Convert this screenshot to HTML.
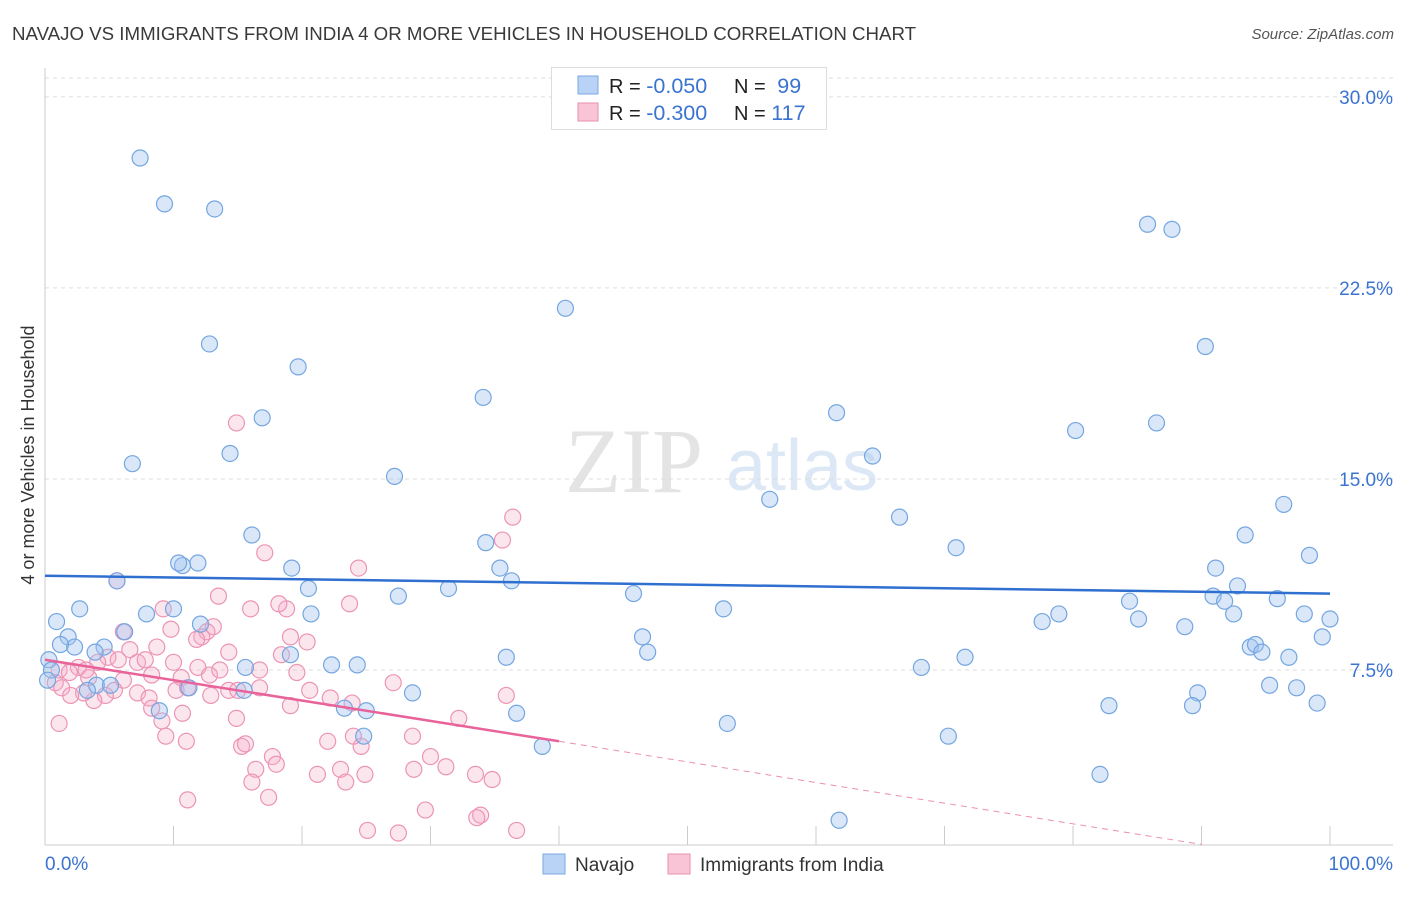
<!DOCTYPE html>
<html><head><meta charset="utf-8"><style>
body{margin:0;background:#fff;font-family:"Liberation Sans",sans-serif}
svg text{font-family:"Liberation Sans",sans-serif}
</style></head><body>
<svg id="chart" width="1406" height="892" viewBox="0 0 1406 892" xmlns="http://www.w3.org/2000/svg">
<text x="12" y="40" font-size="18.7" fill="#3a3a3a">NAVAJO VS IMMIGRANTS FROM INDIA 4 OR MORE VEHICLES IN HOUSEHOLD CORRELATION CHART</text>
<text x="1394" y="39" font-size="15" fill="#555" font-style="italic" text-anchor="end">Source: ZipAtlas.com</text>
<g>
<text x="634" y="492" font-size="92" fill="#e4e4e4" text-anchor="middle" style="font-family:'Liberation Serif',serif">ZIP</text>
<text x="802" y="490" font-size="72" fill="#dce8f6" text-anchor="middle">atlas</text>
</g>
<g id="grid"></g>
<g id="axes"></g>
<g id="pts"></g>
<g id="lines"></g>
<text transform="translate(34,455) rotate(-90)" font-size="18" fill="#333" text-anchor="middle">4 or more Vehicles in Household</text>
<g>
<rect x="551.5" y="67.5" width="275" height="62" fill="#fff" stroke="#ddd"/>
<rect x="578" y="76" width="20" height="18" fill="#b8d3f5" stroke="#7aaae0"/>
<rect x="578" y="103" width="20" height="18" fill="#f9c4d6" stroke="#e98fb0"/>
<text x="609" y="93" font-size="20" fill="#222">R = <tspan fill="#3b73d1" font-size="21.5">-0.050</tspan></text>
<text x="734" y="93" font-size="20" fill="#222">N = <tspan fill="#3b73d1" dx="6" font-size="21.5">99</tspan></text>
<text x="609" y="120" font-size="20" fill="#222">R = <tspan fill="#3b73d1" font-size="21.5">-0.300</tspan></text>
<text x="734" y="120" font-size="20" fill="#222">N = <tspan fill="#3b73d1" font-size="21.5">117</tspan></text>
</g>
<g>
<rect x="543" y="854" width="22" height="20" fill="#b8d3f5" stroke="#7aaae0"/>
<text x="575" y="871" font-size="19" fill="#333">Navajo</text>
<rect x="668" y="854" width="22" height="20" fill="#f9c4d6" stroke="#e98fb0"/>
<text x="700" y="871" font-size="19" fill="#333">Immigrants from India</text>
</g>
</svg>
<script>
const yTicks=[7.5,15,22.5,30];
const yTickLabels=["7.5%","15.0%","22.5%","30.0%"];
const xTicks=[0,10,20,30,40,50,60,70,80,90,100];
const navajoX=[7.4,9.3,13.2,12.8,19.7,16.9,6.8,14.4,27.2,34.1,40.5,85.8,87.7,90.3,80.2,86.5,61.6,64.4,56.4,66.5,70.9,96.4,93.4,98.4,91.1,92.8,90.9,91.8,95.9,92.5,98.0,100.0,99.4,88.7,84.4,85.1,77.6,78.9,93.8,94.2,94.7,96.8,95.3,97.4,99.0,89.7,89.3,82.8,82.1,71.6,68.2,70.3,61.8,52.8,53.1,46.5,46.9,45.8,36.3,35.4,34.3,31.4,27.5,35.9,36.7,38.7,28.6,25.0,24.8,24.3,22.3,23.3,20.5,20.7,19.2,16.1,19.1,15.6,15.5,11.9,10.7,10.4,12.1,10.0,7.9,5.6,6.2,4.6,3.9,2.7,1.8,2.3,0.9,1.2,0.3,0.5,4.0,3.3,5.1,8.9,11.2,0.2];
const navajoY=[27.6,25.8,25.6,20.3,19.4,17.4,15.6,16.0,15.1,18.2,21.7,25.0,24.8,20.2,16.9,17.2,17.6,15.9,14.2,13.5,12.3,14.0,12.8,12.0,11.5,10.8,10.4,10.2,10.3,9.7,9.7,9.5,8.8,9.2,10.2,9.5,9.4,9.7,8.4,8.5,8.2,8.0,6.9,6.8,6.2,6.6,6.1,6.1,3.4,8.0,7.6,4.9,1.6,9.9,5.4,8.8,8.2,10.5,11.0,11.5,12.5,10.7,10.4,8.0,5.8,4.5,6.6,5.9,4.9,7.7,7.7,6.0,10.7,9.7,11.5,12.8,8.1,7.6,6.7,11.7,11.6,11.7,9.3,9.9,9.7,11.0,9.0,8.4,8.2,9.9,8.8,8.4,9.4,8.5,7.9,7.5,6.9,6.7,6.9,5.9,6.8,7.1];
const indiaX=[14.9,36.4,35.6,17.1,24.4,5.6,13.5,23.7,16.0,18.8,18.2,9.2,13.1,12.6,12.2,11.8,6.1,9.8,19.1,20.4,14.3,8.7,6.6,4.9,7.2,5.7,4.1,2.6,1.1,1.9,3.4,0.8,1.3,3.2,10.0,7.8,8.3,11.9,12.8,13.6,16.7,18.4,19.6,10.6,6.1,5.4,4.7,3.8,3.0,2.0,1.1,7.2,8.1,10.2,11.1,12.9,14.3,15.0,16.7,20.6,22.2,23.9,27.1,35.9,8.3,10.7,9.1,14.9,19.1,32.2,9.4,11.0,15.3,15.6,22.0,24.6,24.0,28.6,17.7,18.0,16.4,16.1,21.2,23.0,24.9,23.4,28.7,30.0,31.2,33.5,34.8,17.4,11.1,29.6,33.9,33.6,25.1,27.5,36.7];
const indiaY=[17.2,13.5,12.6,12.1,11.5,11.0,10.4,10.1,9.9,9.9,10.1,9.9,9.2,9.0,8.8,8.7,9.0,9.1,8.8,8.6,8.2,8.4,8.3,8.0,7.8,7.9,7.8,7.6,7.5,7.4,7.2,7.0,6.8,7.5,7.8,7.9,7.3,7.6,7.3,7.5,7.5,8.1,7.4,7.2,7.1,6.7,6.5,6.3,6.6,6.5,5.4,6.6,6.4,6.7,6.8,6.5,6.7,6.7,6.8,6.7,6.4,6.2,7.0,6.5,6.0,5.8,5.5,5.6,6.1,5.6,4.9,4.7,4.5,4.6,4.7,4.5,4.9,4.9,4.1,3.8,3.6,3.1,3.4,3.6,3.4,3.1,3.6,4.1,3.7,3.4,3.2,2.5,2.4,2.0,1.8,1.7,1.2,1.1,1.2];
const navajoTrend=[[0,11.2],[100,10.5]];
const indiaTrend=[[0,7.9],[40,4.7]];
const indiaTrendExt=[[40,4.7],[90,0.65]];
const NS="http://www.w3.org/2000/svg";
const X=v=>45+v*12.85, Y=v=>861-v*25.47;
function mk(tag,a,parent){const e=document.createElementNS(NS,tag);for(const k in a)e.setAttribute(k,a[k]);parent.appendChild(e);return e;}
const gridG=document.getElementById('grid'),axesG=document.getElementById('axes'),ptsG=document.getElementById('pts'),linesG=document.getElementById('lines');
const topLine=mk('line',{x1:45,x2:1393,y1:78,y2:78,stroke:'#ddd','stroke-dasharray':'4,4'},gridG);


yTicks.forEach((t,i)=>{
 const g=mk('line',{x1:45,x2:1393,y1:Y(t),y2:Y(t),stroke:'#ddd','stroke-dasharray':'4,4'},gridG);
 
 
 const l=mk('text',{x:1393,y:Y(t)+7,'font-size':19,fill:'#3b73d1','text-anchor':'end'},axesG);
 l.textContent=yTickLabels[i];
 
 
});
const ya=mk('line',{x1:45,x2:45,y1:68,y2:845,stroke:'#ccc'},axesG);


const xa=mk('line',{x1:45,x2:1393,y1:845,y2:845,stroke:'#ccc'},axesG);


xTicks.forEach(t=>{
 const k=mk('line',{x1:X(t),x2:X(t),y1:826,y2:845,stroke:'#ccc'},axesG);
 
 
});
const xl0=mk('text',{x:45,y:870,'font-size':19,fill:'#3b73d1'},axesG);xl0.textContent='0.0%';


const xl1=mk('text',{x:1393,y:870,'font-size':19,fill:'#3b73d1','text-anchor':'end'},axesG);xl1.textContent='100.0%';


indiaX.forEach((x,i)=>{
 const c=mk('circle',{cx:X(x),cy:Y(indiaY[i]),r:8,fill:'rgba(246,172,200,0.3)',stroke:'#ec94b5','stroke-width':1.2},ptsG);
 
 
});
navajoX.forEach((x,i)=>{
 const c=mk('circle',{cx:X(x),cy:Y(navajoY[i]),r:8,fill:'rgba(160,196,240,0.4)',stroke:'#74a6e0','stroke-width':1.2},ptsG);
 
 
});
const l1=mk('line',{x1:X(navajoTrend[0][0]),y1:Y(navajoTrend[0][1]),x2:X(navajoTrend[1][0]),y2:Y(navajoTrend[1][1]),stroke:'#2f6fd0','stroke-width':2.5},linesG);


const l2=mk('line',{x1:X(indiaTrend[0][0]),y1:Y(indiaTrend[0][1]),x2:X(indiaTrend[1][0]),y2:Y(indiaTrend[1][1]),stroke:'#e8639a','stroke-width':2.5},linesG);


const l3=mk('line',{x1:X(indiaTrendExt[0][0]),y1:Y(indiaTrendExt[0][1]),x2:X(indiaTrendExt[1][0]),y2:Y(indiaTrendExt[1][1]),stroke:'#eb8fb2','stroke-width':1,'stroke-dasharray':'6,5'},linesG);


</script>
</body></html>
